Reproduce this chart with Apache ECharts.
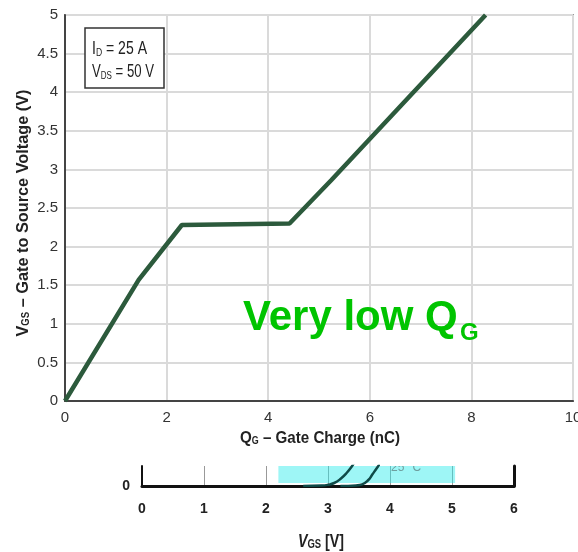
<!DOCTYPE html>
<html><head><meta charset="utf-8">
<script src="https://cdn.jsdelivr.net/npm/echarts@6/dist/echarts.min.js"></script>
<style>html,body{margin:0;padding:0;background:#fff}#c{width:578px;height:552px}</style>
</head><body><div id="c"></div>
<script>
// Gate charge curve (top chart)
const gateCharge = [0, 1.45, 2.30, 4.42, 5.24, 8.28];
const gateVoltage = [0, 1.57, 2.28, 2.30, 2.86, 5.0];
const qTicks = [0, 2, 4, 6, 8, 10];
const vTicks = [0, 0.5, 1, 1.5, 2, 2.5, 3, 3.5, 4, 4.5, 5];
// Transfer curves (cropped bottom chart)
const vgsCurveA = [2.6, 2.9, 3.0, 3.1, 3.2, 3.3, 3.4, 3.5];
const idCurveA = [0, 0.02, 0.06, 0.15, 0.35, 0.65, 1.05, 1.5];
const vgsCurveB = [3.2, 3.45, 3.55, 3.65, 3.72, 3.8, 3.9];
const idCurveB = [0, 0.03, 0.08, 0.3, 0.6, 0.95, 1.4];
const vgsTicks = [0, 1, 2, 3, 4, 5, 6];
const highlightBand = [2.2, 5.05];

const SANS = '"Liberation Sans",Arial,sans-serif';
const zip = (a, b) => a.map((v, i) => [v, b[i]]);

// text measuring to emulate the condensed typeface by horizontal scaling
const mctx = document.createElement('canvas').getContext('2d');
function tw(font, text) { mctx.font = font; return mctx.measureText(text).width; }
function fit(parts, target) {
  let total = 0;
  parts.forEach(p => { total += tw(p[0], p[1]); });
  return target / total;
}
const B17 = 'bold 17px "Liberation Sans"';
const B10 = 'bold 10px "Liberation Sans"';
const R18 = '18px "Liberation Sans"';
const R11 = '11px "Liberation Sans"';

const richBold = {
  a: {fontFamily: SANS, fontWeight: 'bold', fontSize: 17, fill: '#222', lineHeight: 19, verticalAlign: 'bottom'},
  s: {fontFamily: SANS, fontWeight: 'bold', fontSize: 10, fill: '#222', lineHeight: 13, verticalAlign: 'bottom'}
};
const richReg = {
  a: {fontFamily: SANS, fontSize: 18, fill: '#222', lineHeight: 20, verticalAlign: 'bottom'},
  s: {fontFamily: SANS, fontSize: 11, fill: '#222', lineHeight: 14, verticalAlign: 'bottom'}
};

const xTitleScale = fit([[B17, 'Q'], [B10, 'G'], [B17, ' – Gate Charge (nC)']], 160);
const yTitleScale = fit([[B17, 'V'], [B10, 'GS'], [B17, ' – Gate to Source Voltage (V)']], 247);
const leg1Scale = fit([[R18, 'I'], [R11, 'D'], [R18, ' = 25 A']], 55);
const leg2Scale = fit([[R18, 'V'], [R11, 'DS'], [R18, ' = 50 V']], 62);
const bTitleScale = fit([['italic bold 18px "Liberation Sans"', 'V'], ['bold 12px "Liberation Sans"', 'GS'], ['bold 18px "Liberation Sans"', ' [V]']], 46);

const chart = echarts.init(document.getElementById('c'), null, {renderer: 'canvas'});
chart.setOption({
  animation: false,
  grid: [
    {left: 65, top: 15, width: 508, height: 386, show: true, borderColor: '#999', borderWidth: 2, outerBoundsMode: 'none', containLabel: false},
    {left: 142, top: 466, width: 372, height: 20, outerBoundsMode: 'none', containLabel: false}
  ],
  xAxis: [
    {gridIndex: 0, type: 'value', min: qTicks[0], max: qTicks[qTicks.length - 1], interval: 2,
      axisLine: {lineStyle: {color: '#444', width: 2}}, axisTick: {show: false},
      splitLine: {lineStyle: {color: '#dadada', width: 2}},
      axisLabel: {fontFamily: SANS, fontSize: 15, color: '#333', margin: 9}},
    {gridIndex: 1, type: 'value', min: vgsTicks[0], max: vgsTicks[vgsTicks.length - 1], interval: 1,
      axisLine: {lineStyle: {color: '#111', width: 3}}, axisTick: {show: false},
      splitLine: {lineStyle: {color: '#999', width: 1}},
      axisLabel: {fontFamily: SANS, fontWeight: 'bold', fontSize: 14, color: '#222', margin: 16}}
  ],
  yAxis: [
    {gridIndex: 0, type: 'value', min: vTicks[0], max: vTicks[vTicks.length - 1], interval: 0.5,
      axisLine: {show: true, lineStyle: {color: '#444', width: 2}}, axisTick: {show: false},
      splitLine: {lineStyle: {color: '#dadada', width: 2}},
      axisLabel: {fontFamily: SANS, fontSize: 15, color: '#333', margin: 7}},
    {gridIndex: 1, type: 'value', min: 0, max: 1, interval: 1, position: 'left',
      axisLine: {show: true, lineStyle: {color: '#111', width: 2}},
      axisTick: {show: false}, splitLine: {show: false},
      axisLabel: {fontFamily: SANS, fontWeight: 'bold', fontSize: 14, color: '#222', margin: 12,
        formatter: v => (v === 0 ? '0' : '')}},
    {gridIndex: 1, type: 'value', min: 0, max: 1, interval: 1, position: 'right',
      axisLine: {show: true, lineStyle: {color: '#111', width: 3}},
      axisTick: {show: false}, splitLine: {show: false}, axisLabel: {show: false}}
  ],
  series: [
    {type: 'line', xAxisIndex: 0, yAxisIndex: 0, data: zip(gateCharge, gateVoltage),
      symbol: 'none', lineStyle: {color: '#2c5a3c', width: 4.5}, z: 5},
    {type: 'line', xAxisIndex: 1, yAxisIndex: 1, data: zip(vgsCurveA, idCurveA), smooth: true,
      symbol: 'none', lineStyle: {color: '#0f4a48', width: 2.5}, z: 5,
      markArea: {silent: true, itemStyle: {color: 'rgba(40,235,235,0.45)'},
        data: [[{xAxis: highlightBand[0], yAxis: 0.15}, {xAxis: highlightBand[1], yAxis: 1}]]}},
    {type: 'line', xAxisIndex: 1, yAxisIndex: 1, data: zip(vgsCurveB, idCurveB), smooth: true,
      symbol: 'none', lineStyle: {color: '#0f4a48', width: 2.5}, z: 5}
  ],
  graphic: [
    // axis titles
    {type: 'text', x: 240, y: 437, scaleX: xTitleScale, z: 21, style: {
      text: '{a|Q}{s|G}{a| – Gate Charge (nC)}', verticalAlign: 'middle', rich: richBold}},
    {type: 'text', x: 22, y: 213, rotation: Math.PI / 2, scaleX: yTitleScale, z: 21, style: {
      text: '{a|V}{s|GS}{a| – Gate to Source Voltage (V)}', align: 'center', verticalAlign: 'middle', rich: richBold}},
    // condition box
    {type: 'rect', shape: {x: 85, y: 28, width: 79, height: 60},
      style: {fill: '#fff', stroke: '#333', lineWidth: 1.5}, z: 20},
    {type: 'text', x: 92, y: 48, scaleX: leg1Scale, z: 21, style: {
      text: '{a|I}{s|D}{a| = 25 A}', verticalAlign: 'middle', rich: richReg}},
    {type: 'text', x: 92, y: 71, scaleX: leg2Scale, z: 21, style: {
      text: '{a|V}{s|DS}{a| = 50 V}', verticalAlign: 'middle', rich: richReg}},
    // annotation
    {type: 'text', x: 243, y: 318, z: 21, style: {
      text: 'Very low Q', fill: '#00c400', font: 'bold 42px "Liberation Sans", Arial, sans-serif', verticalAlign: 'middle'}},
    {type: 'text', x: 460, y: 333, z: 21, style: {
      text: 'G', fill: '#00c400', font: 'bold 24px "Liberation Sans", Arial, sans-serif', verticalAlign: 'middle'}},
    // bottom chart bits
    {type: 'text', x: 391, y: 468, z: 21, style: {
      text: '25 °C', fill: '#6f9f9f', font: '12px "Liberation Sans", Arial, sans-serif', verticalAlign: 'middle'}},
    {type: 'rect', shape: {x: 380, y: 450, width: 45, height: 16}, style: {fill: '#fff'}, z: 22},
    {type: 'text', x: 298, y: 541, scaleX: bTitleScale, z: 21, style: {
      text: '{v|V}{s|GS}{a| [V]}', verticalAlign: 'middle',
      rich: {v: {fontFamily: SANS, fontStyle: 'italic', fontWeight: 'bold', fontSize: 18, fill: '#222', lineHeight: 20, verticalAlign: 'bottom'},
             s: {fontFamily: SANS, fontWeight: 'bold', fontSize: 12, fill: '#222', lineHeight: 16, verticalAlign: 'bottom'},
             a: {fontFamily: SANS, fontWeight: 'bold', fontSize: 18, fill: '#222', lineHeight: 20, verticalAlign: 'bottom'}}}}
  ]
});
</script></body></html>
